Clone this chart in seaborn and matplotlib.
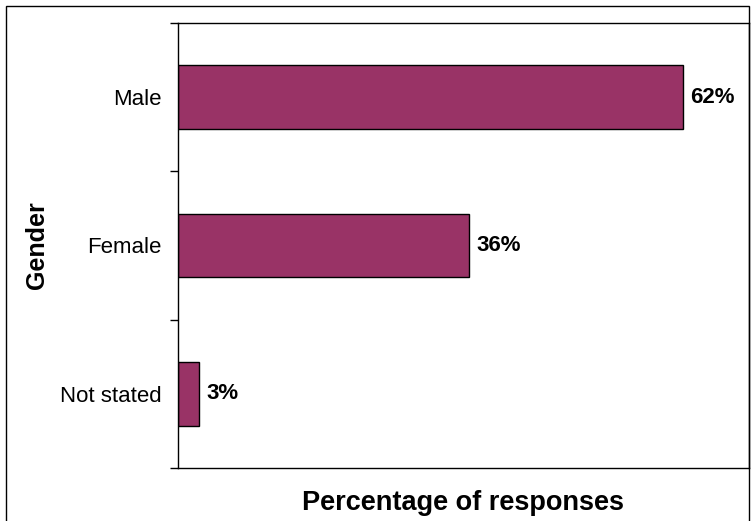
import seaborn as sns
import numpy as np
import pandas as pd
import matplotlib.pyplot as plt
from matplotlib.patches import Rectangle

# data
genders = ['Male', 'Female', 'Not stated']
percent = [61.9, 35.7, 2.6]

df = pd.DataFrame({'gender': genders, 'pct': percent})

sns.set_style('white')
plt.rcParams['font.family'] = ['Liberation Sans', 'DejaVu Sans']
plt.rcParams['text.color'] = 'black'
plt.rcParams['axes.labelcolor'] = 'black'
plt.rcParams['ytick.color'] = 'black'
plt.rcParams['ytick.labelcolor'] = 'black'

fig = plt.figure(figsize=(7.52, 5.21), dpi=100)
ax = fig.add_axes([178 / 752, 1 - 468 / 521, 571 / 752, 445 / 521])

sns.barplot(data=df, x='pct', y='gender', orient='h', color='#993366',
            edgecolor='black', linewidth=1, width=0.43, saturation=1, ax=ax)

ax.set_xlim(0, 70)
ax.set_ylim(2.5, -0.5)
ax.set_xticks([])

# labels in the middle of each band, tick marks on the boundaries
ax.tick_params(axis='y', which='major', length=0, pad=12, labelsize=16)
ax.set_yticks([-0.5, 0.5, 1.5, 2.5], minor=True)
ax.tick_params(axis='y', which='minor', length=6, width=1, color='black',
               direction='out', left=True)

for s in ax.spines.values():
    s.set_color('black')
    s.set_linewidth(1)

ax.bar_label(ax.containers[0], labels=[f'{v:.0f}%' for v in percent],
             padding=5, fontsize=16, fontweight='bold', color='black')

ax.set_xlabel('Percentage of responses', fontsize=19.5, fontweight='bold', labelpad=16)
ax.set_ylabel('Gender', fontsize=18, fontweight='bold', labelpad=8)

# chart border
fig.add_artist(Rectangle((6 / 752, -0.02), 743 / 752, 1.02 - 6 / 521,
                         transform=fig.transFigure, fill=False,
                         edgecolor='black', linewidth=1))

fig.savefig('out.png', dpi=100)
